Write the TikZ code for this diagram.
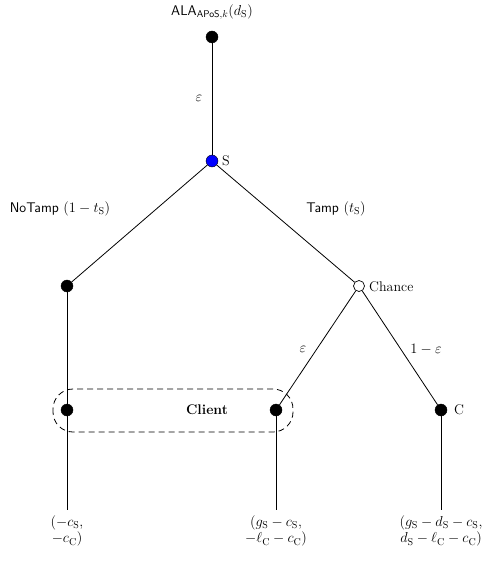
\documentclass[tikz,border=0pt]{standalone}
\usepackage{amsmath}
\begin{document}
\begin{tikzpicture}[x=1pt,y=-1pt,
  every node/.style={font=\fontsize{14}{16.5}\selectfont},
  dec/.style={circle,fill=black,draw=black,inner sep=0pt,minimum size=12pt},
  root/.style={circle,fill=blue,draw=black,inner sep=0pt,minimum size=12pt},
  chance/.style={circle,fill=white,draw=black,line width=0.7pt,inner sep=0pt,minimum size=11pt},
  edge/.style={draw=black,line width=0.8pt},
  lbl/.style={inner sep=2pt},
  payoff/.style={align=center,inner sep=1pt}]
\useasboundingbox (0,0) rectangle (491,561);

% information set of the client
\draw[line width=0.8pt,dash pattern=on 6pt off 4pt,rounded corners=20pt]
  (53,389) rectangle (293,432);

% nodes of the game tree
\node[dec]    (top) at (212,37) {};
\node[root]   (s)   at (212,161) {};
\node[dec]    (nt)  at (67,286) {};
\node[chance] (ch)  at (359,286) {};
\node[dec]    (cl)  at (67,410) {};
\node[dec]    (cr)  at (276,410) {};
\node[dec]    (cc)  at (441,410) {};
\coordinate   (l1) at (67,510);
\coordinate   (l2) at (276,510);
\coordinate   (l3) at (441,510);

% edges
\draw[edge] (top) -- (s);
\draw[edge] (s) -- (nt);
\draw[edge] (s) -- (ch);
\draw[edge] (ch) -- (cr);
\draw[edge] (ch) -- (cc);
\draw[edge] (nt) -- (cl);
\draw[edge] (cl) -- (l1);
\draw[edge] (cr) -- (l2);
\draw[edge] (cc) -- (l3);

% labels
\node[lbl] (alab) at (212,12) {\textsf{ALA}$_{\textsf{APoS},k}(d_{\mathrm S})$};
\node[lbl] (eps0) at (199,98) {$\varepsilon$};
\node[lbl,anchor=west] (slab) at (220,161) {S};
\node[lbl] (ntlab) at (60,209) {\textsf{NoTamp} $(1-t_{\mathrm S})$};
\node[lbl] (tlab) at (336,209) {\textsf{Tamp} $(t_{\mathrm S})$};
\node[lbl,anchor=west] (chlab) at (367,287) {Chance};
\node[lbl] (eps1) at (303,349) {$\varepsilon$};
\node[lbl] (eps2) at (426,349) {$1-\varepsilon$};
\node[lbl] (client) at (207,410) {\textbf{Client}};
\node[lbl,anchor=west] (clab) at (452,410) {C};

% payoffs
\node[payoff] (p1) at (67,531) {$(-c_{\mathrm S},$\\$-c_{\mathrm C})$};
\node[payoff] (p2) at (276,531) {$(g_{\mathrm S}-c_{\mathrm S},$\\$-\ell_{\mathrm C}-c_{\mathrm C})$};
\node[payoff] (p3) at (441,531) {$(g_{\mathrm S}-d_{\mathrm S}-c_{\mathrm S},$\\$d_{\mathrm S}-\ell_{\mathrm C}-c_{\mathrm C})$};
\end{tikzpicture}
\end{document}
